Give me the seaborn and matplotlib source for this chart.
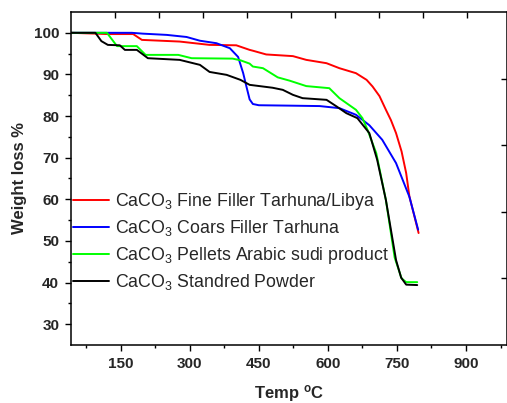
import matplotlib
matplotlib.use("Agg")
import matplotlib.pyplot as plt
import seaborn as sns
import pandas as pd
import numpy as np

# ---- data ----
temp_fine = [42, 122, 177, 196, 278, 343, 401, 430, 437, 466, 524, 553, 597, 625, 661, 684, 697, 712, 726, 737, 748, 760, 770, 777, 797]
wl_fine   = [100, 99.7, 99.7, 98.3, 97.9, 97.1, 97.0, 95.9, 95.7, 94.8, 94.4, 93.5, 92.7, 91.5, 90.3, 88.7, 87.1, 84.8, 81.5, 79.0, 75.9, 71.5, 66.3, 60.7, 51.9]

temp_coars = [42, 174, 198, 250, 293, 322, 358, 387, 405, 416, 423, 430, 437, 450, 520, 582, 625, 661, 690, 718, 748, 777, 796]
wl_coars   = [100, 100, 99.8, 99.5, 99.0, 98.1, 97.5, 96.3, 94.2, 90.3, 87.1, 84.0, 82.9, 82.6, 82.5, 82.4, 81.9, 80.3, 77.8, 74.3, 68.7, 60.6, 52.7]

temp_pellets = [42, 120, 142, 185, 204, 275, 304, 393, 410, 430, 437, 459, 491, 517, 553, 603, 625, 661, 675, 686, 705, 726, 745, 760, 770, 794]
wl_pellets   = [100, 100, 96.8, 96.8, 94.7, 94.7, 93.9, 93.8, 93.4, 92.6, 91.9, 91.5, 89.3, 88.5, 87.2, 86.7, 84.3, 81.5, 79.5, 76.7, 71.1, 59.8, 46.0, 41.0, 40.1, 40.1]

temp_std = [42, 95, 108, 122, 148, 159, 185, 209, 278, 322, 343, 380, 410, 430, 480, 502, 524, 545, 597, 619, 640, 664, 690, 707, 726, 748, 759, 770, 794]
wl_std   = [100, 100, 98.0, 97.1, 97.0, 95.9, 95.9, 93.9, 93.5, 92.3, 90.6, 89.9, 88.7, 87.5, 86.8, 86.3, 85.1, 84.3, 83.9, 82.3, 80.7, 79.5, 75.9, 69.5, 59.8, 45.4, 41.2, 39.5, 39.4]

labels = [r"CaCO$_3$ Fine Filler Tarhuna/Libya",
          r"CaCO$_3$ Coars Filler Tarhuna",
          r"CaCO$_3$ Pellets Arabic sudi product",
          r"CaCO$_3$ Standred Powder"]
colors = ["#ff0000", "#0000ff", "#00ff00", "#000000"]

x_ticks = [150, 300, 450, 600, 750, 900]
y_ticks = [30, 40, 50, 60, 70, 80, 90, 100]

series = [(temp_fine, wl_fine), (temp_coars, wl_coars),
          (temp_pellets, wl_pellets), (temp_std, wl_std)]

sns.set_theme(style="white")
plt.rcParams["font.family"] = ["Liberation Sans", "DejaVu Sans"]
plt.rcParams["mathtext.fontset"] = "custom"
plt.rcParams["mathtext.rm"] = "Liberation Sans"
plt.rcParams["mathtext.it"] = "Liberation Sans:italic"
plt.rcParams["mathtext.bf"] = "Liberation Sans:bold"

fig = plt.figure(figsize=(5.07, 4.03), dpi=100)
ax = fig.add_axes([71/507, 58/403, 436/507, 333/403])

for (t, w), lab, c in zip(series, labels, colors):
    df = pd.DataFrame({"Temp": t, "WL": w})
    sns.lineplot(data=df, x="Temp", y="WL", color=c, label=lab, ax=ax,
                 sort=False, estimator=None, linewidth=1.4)

ax.set_xlim(42, 989)
ax.set_ylim(25, 105)
ax.set_xticks(x_ticks)
ax.set_xticks([75, 225, 375, 525, 675, 825, 975], minor=True)
ax.set_yticks(y_ticks)
ax.set_yticks(np.arange(35, 105, 10), minor=True)
ax.set_xticklabels([str(v) for v in x_ticks], fontweight="bold", fontsize=11)
ax.set_yticklabels([str(v) for v in y_ticks], fontweight="bold", fontsize=11)
ax.tick_params(axis="both", which="major", direction="out", length=4.5, width=1, color="black", pad=4)
ax.tick_params(axis="both", which="minor", direction="out", length=2.5, width=1, color="black")
ax.tick_params(axis="both", which="both", bottom=True, left=True)

for s in ax.spines.values():
    s.set_color("black")
    s.set_linewidth(1.1)

ax.set_xlabel(r"Temp $^{\mathbf{o}}$C", fontweight="bold", fontsize=12)
ax.set_ylabel("Weight loss %", fontweight="bold", fontsize=12)
ax.xaxis.set_label_coords(0.5, -0.115)
ax.yaxis.set_label_coords(-0.10, 0.5)

# top / right mirrored ticks (separate scales as in the original)
axt = ax.twiny()
axt.set_xlim(0, 9.9)
axt.set_xticks(range(1, 10))
axt.set_xticklabels([])
axt.tick_params(axis="x", direction="in", length=4.5, width=1, top=True, color="black")
axr = ax.twinx()
axr.set_ylim(0, 5)
axr.set_yticks(range(1, 5))
axr.set_yticklabels([])
axr.tick_params(axis="y", direction="in", length=4.5, width=1, right=True, color="black")
for a in (axt, axr):
    for s in a.spines.values():
        s.set_visible(False)
    a.grid(False)

ax.grid(False)
leg = ax.legend(loc="upper left", bbox_to_anchor=(73/507, 1 - 191/403),
                bbox_transform=fig.transFigure, frameon=False, fontsize=12.8,
                handlelength=2.0, handletextpad=0.35, labelspacing=0.36,
                borderaxespad=0, borderpad=0)
for line in leg.get_lines():
    line.set_linewidth(1.4)

fig.savefig("out.png", dpi=100)
